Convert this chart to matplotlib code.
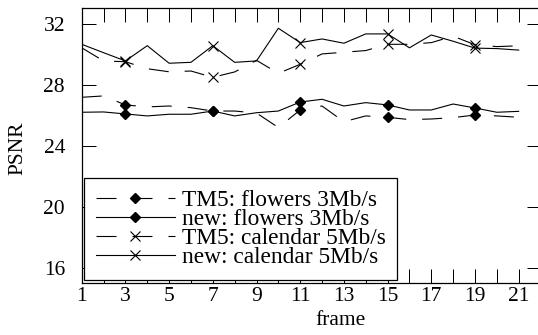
import matplotlib

matplotlib.use("Agg")
import matplotlib.pyplot as plt

plt.rcParams["font.family"] = ["Liberation Serif", "DejaVu Serif"]
plt.rcParams["lines.scale_dashes"] = False

# frames 1..21, markers shown every 4 frames starting at 3
frames = list(range(1, 22))
mark_at = [2, 6, 10, 14, 18]

tm5_flowers = [27.18, 27.27, 26.68, 26.55, 26.61, 26.50, 26.28, 26.28, 26.15, 25.20, 26.35,
               26.61, 25.58, 25.96, 25.87, 25.72, 25.76, 25.85, 26.02, 25.96, 25.87]
new_flowers = [26.20, 26.22, 26.09, 25.96, 26.07, 26.07, 26.28, 25.96, 26.17, 26.28, 26.87,
               27.05, 26.61, 26.83, 26.68, 26.35, 26.35, 26.74, 26.48, 26.20, 26.26]
tm5_calendar = [30.42, 29.56, 29.51, 29.05, 28.85, 28.90, 28.49, 28.84, 29.60, 28.75, 29.34,
                30.02, 30.13, 30.24, 30.65, 30.65, 30.76, 31.18, 30.62, 30.50, 30.55]
new_calendar = [30.65, 30.10, 29.56, 30.56, 29.41, 29.47, 30.56, 29.47, 29.56, 31.70, 30.76,
                31.00, 30.72, 31.33, 31.33, 30.42, 31.26, 30.85, 30.40, 30.37, 30.27]

labels = ["TM5: flowers 3Mb/s", "new: flowers 3Mb/s",
          "TM5: calendar 5Mb/s", "new: calendar 5Mb/s"]
xticks = list(range(1, 23))
yticks = [16, 20, 24, 28, 32]

FS = 15.5
LEG_FS = 16.8
DASH = (14.4, 11.5)

fig = plt.figure(figsize=(5.38, 3.35), dpi=100)
ax = fig.add_axes([0.1519, 0.1543, 0.8528, 0.8206])

kw = dict(color="black", linewidth=0.8, markevery=mark_at)
ax.plot(frames, tm5_flowers, marker="D", markersize=5.5, dashes=DASH, label=labels[0], **kw)
ax.plot(frames, new_flowers, marker="D", markersize=5.5, label=labels[1], **kw)
ax.plot(frames, tm5_calendar, marker="x", markersize=7, markeredgewidth=0.8, dashes=DASH,
        label=labels[2], **kw)
ax.plot(frames, new_calendar, marker="x", markersize=7, markeredgewidth=0.8,
        label=labels[3], **kw)

ax.set_xlim(1, 22)
ax.set_ylim(15, 33)
ax.set_xticks(xticks)
ax.set_xticklabels([str(t) if t % 2 == 1 and t < 22 else "" for t in xticks])
ax.set_yticks(yticks)
ax.tick_params(direction="in", length=10, width=0.72, top=True, right=True,
               labelsize=FS)
ax.tick_params(axis="x", pad=2.5)
ax.tick_params(axis="y", pad=12)
for s in ax.spines.values():
    s.set_linewidth(0.9)

ax.set_xlabel("frame", fontsize=FS)
ax.xaxis.set_label_coords(0.565, -0.10)
ax.set_ylabel("PSNR", fontsize=FS, va="center")
ax.yaxis.set_label_coords(-0.14, 0.49)

leg = ax.legend(loc="lower left", bbox_to_anchor=(0.005, 0.012), borderaxespad=0,
                fontsize=LEG_FS, handlelength=3.39, handletextpad=0.3, labelspacing=-0.1,
                borderpad=0.5, fancybox=False, framealpha=1, edgecolor="black")
leg.get_frame().set_linewidth(0.9)

fig.savefig("out.png", dpi=100)
